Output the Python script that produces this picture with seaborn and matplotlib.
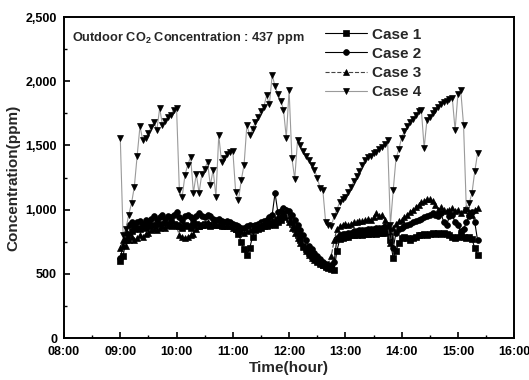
import pandas as pd
import matplotlib
matplotlib.use('Agg')
import matplotlib.pyplot as plt
import matplotlib.dates as mdates
from matplotlib.ticker import FuncFormatter, MultipleLocator
import seaborn as sns

# === DATA (ppm, one reading every 3 minutes from 09:00) ===
START = '2000-01-01 09:00'
STEP = '3min'

CASE_1 = [
    600, 640, 760, 800, 830, 850, 860, 850, 870, 860,
    870, 880, 870, 880, 890, 880, 890, 880, 900, 890,
    880, 870, 860, 880, 870, 860, 880, 890, 870, 880,
    890, 880, 870, 880, 890, 880, 870, 880, 870, 880,
    870, 850, 810, 750, 690, 650, 700, 790, 840, 850,
    860, 870, 870, 880, 890, 880, 900, 920, 940, 950,
    930, 890, 850, 800, 760, 720, 690, 660, 640, 620,
    600, 585, 570, 555, 545, 535, 530, 680, 770, 780,
    790, 790, 800, 800, 800, 810, 800, 810, 810, 810,
    820, 810, 820, 820, 820, 830, 760, 620, 680, 740,
    780, 790, 780, 760, 780, 790, 800, 800, 810, 800,
    810, 820, 810, 820, 810, 820, 810, 800, 790, 780,
    790, 800, 790, 780, 790, 770, 700, 650,
]
CASE_2 = [
    620, 720, 820, 880, 900, 880, 900, 910, 890, 920,
    900, 930, 950, 920, 940, 960, 930, 950, 940, 960,
    980, 940, 920, 950, 960, 940, 920, 950, 970, 950,
    940, 960, 950, 930, 920, 930, 910, 900, 910, 900,
    890, 880, 870, 860, 860, 870, 880, 870, 880, 890,
    900, 910, 920, 940, 960, 1130, 980, 990, 1010, 1000,
    990, 960, 920, 880, 840, 800, 760, 720, 690, 660,
    635, 615, 595, 580, 570, 565, 590, 780, 800, 810,
    810, 820, 820, 830, 830, 840, 840, 840, 850, 850,
    850, 860, 860, 860, 870, 860, 800, 700, 820, 850,
    860, 870, 880, 890, 900, 910, 920, 930, 940, 950,
    960, 970, 960, 950, 970, 900, 880, 950, 960, 900,
    880, 830, 850, 900, 950, 980, 900, 760,
]
CASE_3 = [
    700, 760, 720, 760, 790, 760, 780, 800, 790, 810,
    820, 840, 850, 840, 860, 870, 860, 880, 870, 880,
    870, 800, 790, 780, 790, 800, 810, 850, 870, 880,
    890, 900, 880, 890, 880, 890, 880, 870, 880, 870,
    860, 850, 840, 830, 820, 830, 840, 860, 870, 880,
    890, 900, 900, 910, 920, 930, 950, 960, 970, 1000,
    900, 860, 820, 780, 740, 710, 680, 650, 625, 605,
    590, 575, 565, 560, 580, 640, 760, 850, 870, 880,
    890, 880, 890, 900, 900, 910, 910, 920, 930, 920,
    940, 970, 950, 960, 920, 880, 740, 860, 890, 910,
    920, 940, 960, 980, 1000, 1020, 1040, 1060, 1070, 1080,
    1080, 1070, 1040, 1000, 1020, 1000, 990, 1000, 1010, 990,
    1000, 970, 1000, 1010, 980, 960, 1000, 1010,
]
CASE_4 = [
    1560, 800, 850, 960, 1050, 1180, 1420, 1650, 1540, 1560,
    1600, 1640, 1680, 1620, 1790, 1660, 1690, 1720, 1740, 1780,
    1790, 1150, 1100, 1270, 1350, 1410, 1130, 1280, 1130, 1280,
    1320, 1370, 1190, 1310, 1100, 1580, 1370, 1400, 1430, 1450,
    1460, 1140, 1075, 1230, 1350, 1660, 1580, 1630, 1680, 1720,
    1770, 1800, 1890, 1820, 2050, 1960, 1900, 1850, 1780, 1560,
    1930, 1400, 1240, 1540, 1500, 1460, 1420, 1390, 1350, 1310,
    1250, 1170, 1150, 900, 880, 870, 950, 1000, 1060, 1080,
    1100, 1140, 1180, 1220, 1260, 1300, 1350, 1390, 1410, 1420,
    1440, 1450, 1470, 1490, 1510, 1540, 880, 1150, 1400, 1470,
    1560, 1610, 1650, 1680, 1710, 1740, 1770, 1780, 1480, 1700,
    1720, 1750, 1780, 1800, 1820, 1840, 1850, 1860, 1870, 1620,
    1900, 1930, 1660, 1000, 1050, 1130, 1300, 1440,
]

CASES = ['Case 1', 'Case 2', 'Case 3', 'Case 4']
SERIES = [CASE_1, CASE_2, CASE_3, CASE_4]
MARKERS = ['s', 'o', '^', 'v']
LINE_COLORS = ['black', 'black', '#444444', '#9a9a9a']
LINE_STYLES = ['-', '-', '--', '-']

Y_TICKS = [0, 500, 1000, 1500, 2000, 2500]
NOTE = r'Outdoor CO$_{2}$ Concentration : 437 ppm'
# === END DATA ===

sns.set_style('ticks')
plt.rcParams['font.family'] = ['Liberation Sans', 'DejaVu Sans']
plt.rcParams['font.weight'] = 'bold'
plt.rcParams['mathtext.fontset'] = 'custom'
plt.rcParams['mathtext.rm'] = 'Liberation Sans:bold'
plt.rcParams['mathtext.bf'] = 'Liberation Sans:bold'

fig = plt.figure(figsize=(5.29, 3.80), dpi=100)
ax = fig.add_axes([0.121, 0.1105, 0.851, 0.8445])

for name, vals, mk, col, ls in zip(CASES, SERIES, MARKERS, LINE_COLORS, LINE_STYLES):
    times = pd.date_range(START, periods=len(vals), freq=STEP)
    sns.lineplot(x=times, y=vals, ax=ax, color=col, linestyle=ls,
                 linewidth=0.8, marker=mk, markersize=4.2,
                 markerfacecolor='black', markeredgecolor='black',
                 markeredgewidth=0.5, errorbar=None, label=name)

ax.set_xlim(pd.Timestamp('2000-01-01 08:00'), pd.Timestamp('2000-01-01 16:00'))
ax.xaxis.set_major_locator(mdates.HourLocator())
ax.xaxis.set_minor_locator(mdates.MinuteLocator(byminute=[30]))
ax.xaxis.set_major_formatter(mdates.DateFormatter('%H:%M'))

ax.set_ylim(0, 2500)
ax.set_yticks(Y_TICKS)
ax.yaxis.set_minor_locator(MultipleLocator(250))
ax.yaxis.set_major_formatter(FuncFormatter(lambda v, p: f'{v:,.0f}'))

ax.tick_params(which='both', direction='in', colors='black', labelsize=9)
ax.tick_params(which='major', length=4, width=1.2)
ax.tick_params(which='minor', length=2.5, width=1.0)
ax.tick_params(axis='x', which='major', pad=6)
ax.tick_params(axis='y', which='major', pad=5)
for lab in ax.get_xticklabels() + ax.get_yticklabels():
    lab.set_fontweight('bold')
for sp in ax.spines.values():
    sp.set_visible(True)
    sp.set_linewidth(1.4)
    sp.set_color('black')

ax.set_xlabel('Time(hour)', fontsize=11, fontweight='bold', labelpad=2)
ax.set_ylabel('Concentration(ppm)', fontsize=11, fontweight='bold', labelpad=4)

ax.text(0.018, 0.935, NOTE, transform=ax.transAxes, fontsize=9.2,
        fontweight='bold', va='center', ha='left')

leg = ax.legend(loc='upper left', bbox_to_anchor=(0.555, 1.0), frameon=False,
                fontsize=11, handlelength=2.8, handletextpad=0.3,
                labelspacing=0.33, borderaxespad=0.3, numpoints=1)
for t in leg.get_texts():
    t.set_fontweight('bold')

fig.savefig('out.png', dpi=100)
